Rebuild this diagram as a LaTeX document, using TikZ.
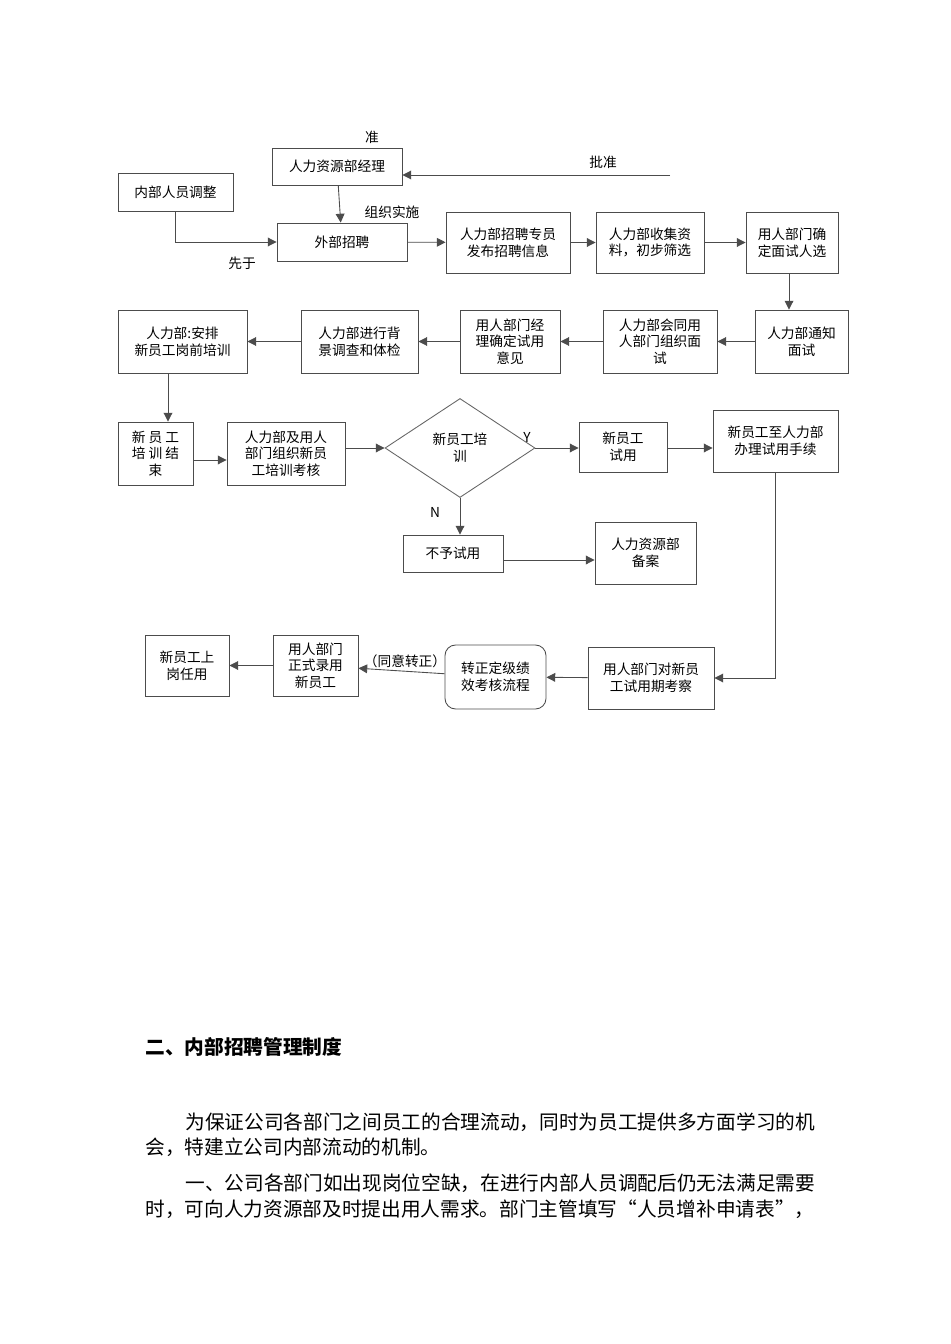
\documentclass[tikz,border=0pt]{standalone}
\usepackage{fontspec}
\setmainfont{Noto Sans CJK SC}
\usetikzlibrary{arrows.meta,shapes.geometric}
\tikzset{
 bx/.style={draw=black!70, line width=0.5pt, align=center, font=\fontsize{7.8}{9.5}\selectfont, inner sep=1pt},
 ar/.style={draw=black!70, line width=0.5pt, -{Triangle[length=5pt,width=5pt]}},
 lb/.style={font=\fontsize{7.8}{9.5}\selectfont},
 para/.style={anchor=west, font=\fontsize{11.2}{13}\selectfont, inner sep=0pt}
}
\newcommand\bxn[6]{\node[bx, minimum width=#4*0.02cm-#2*0.02cm, minimum height=#5*0.02cm-#3*0.02cm] (#1) at ({(#2+#4)/2},{(#3+#5)/2}) {#6};}
\begin{document}
\begin{tikzpicture}[x=0.02cm,y=-0.02cm]
\useasboundingbox (0,0) rectangle (950,1344);
\bxn{hrm}{272}{148}{402}{185}{人力资源部经理}
\bxn{nb}{118}{173}{233}{211}{内部人员调整}
\bxn{wb}{277}{223}{407}{261}{外部招聘}
\bxn{fb}{446}{212}{570}{273}{人力部招聘专员\\发布招聘信息}
\bxn{sj}{596}{212}{704}{273}{人力部收集资\\料，初步筛选}
\bxn{qd}{746}{212}{838}{273}{用人部门确\\定面试人选}
\bxn{tz}{755}{310}{848}{373}{人力部通知\\面试}
\bxn{ms}{603}{310}{717}{373}{人力部会同用\\人部门组织面\\试}
\bxn{jl}{460}{310}{560}{373}{用人部门经\\理确定试用\\意见}
\bxn{bj}{301}{310}{418}{373}{人力部进行背\\景调查和体检}
\bxn{ap}{118}{310}{247}{373}{人力部:安排\\新员工岗前培训}
\bxn{js}{118}{422}{193}{485}{新 员 工\\培 训 结\\束}
\bxn{kh}{227}{422}{345}{485}{人力部及用人\\部门组织新员\\工培训考核}
\node[draw=black!60, line width=0.5pt, diamond, minimum width=150*0.02cm, minimum height=99*0.02cm, inner sep=0pt, aspect=1.5, align=center, font=\fontsize{7.8}{9.5}\selectfont] (dm) at (460,448) {新员工培\\训};
\bxn{sy}{579}{422}{667}{472}{新员工\\试用}
\bxn{bl}{713}{410}{838}{472}{新员工至人力部\\办理试用手续}
\bxn{bu}{403}{535}{503}{572}{不予试用}
\bxn{ba}{595}{522}{696}{584}{人力资源部\\备案}
\bxn{kc}{588}{647}{714}{709}{用人部门对新员\\工试用期考察}
\node[bx, rounded corners=6pt, minimum width=101*0.02cm, minimum height=64*0.02cm] (zz) at (495.5,677) {转正定级绩\\效考核流程};
\bxn{ly}{273}{635}{358}{696}{用人部门\\正式录用\\新员工}
\bxn{sg}{145}{635}{229}{696}{新员工上\\岗任用}
\node[lb] at (372,137) {准};
\node[lb] at (603,162) {批准};
\node[lb] at (392,212) {组织实施};
\node[lb] at (242,263) {先于};
\node[lb] at (527,437) {Y};
\node[lb] at (435,512) {N};
\node[lb] at (405,661) {（同意转正）};
\coordinate (pz) at (670,175);
\coordinate (c789) at (789,0);
\coordinate (c168) at (168,0);
\coordinate (c775) at (775,0);
\coordinate (y460) at (0,460);
\coordinate (y448) at (0,448);
\coordinate (y560) at (0,560);
\draw[ar] (pz) -- (hrm.east |- pz);
\draw[ar] (hrm) -- (wb);
\draw[ar] (nb.south) |- (wb.west);
\draw[ar] (wb) -- (fb);
\draw[ar] (fb) -- (sj);
\draw[ar] (sj) -- (qd);
\draw[ar] (qd.south -| c789) -- (tz.north -| c789);
\draw[ar] (tz) -- (ms);
\draw[ar] (ms) -- (jl);
\draw[ar] (jl) -- (bj);
\draw[ar] (bj) -- (ap);
\draw[ar] (ap.south -| c168) -- (js.north -| c168);
\draw[ar] (js.east |- y460) -- (kh.west |- y460);
\draw[ar] (kh.east |- y448) -- (dm.west);
\draw[ar] (dm.east) -- (sy.west |- dm.east);
\draw[ar] (sy.east |- y448) -- (bl.west |- y448);
\draw[ar] (dm.south) -- (bu.north -| dm.south);
\draw[ar] (bu.east |- y560) -- (ba.west |- y560);
\draw[ar] (bl.south -| c775) |- (kc.east);
\draw[ar] (kc) -- (zz);
\draw[ar] (zz) -- (ly);
\draw[ar] (ly) -- (sg);
\node[para, font=\bfseries\fontsize{11.2}{13}\selectfont] at (145,1047) {二、内部招聘管理制度};
\node[para] at (185,1122) {为保证公司各部门之间员工的合理流动，同时为员工提供多方面学习的机};
\node[para] at (145,1147) {会，特建立公司内部流动的机制。};
\node[para] at (185,1183) {一、公司各部门如出现岗位空缺，在进行内部人员调配后仍无法满足需要};
\node[para] at (145,1209) {时，可向人力资源部及时提出用人需求。部门主管填写“人员增补申请表”，};
\end{tikzpicture}
\end{document}
